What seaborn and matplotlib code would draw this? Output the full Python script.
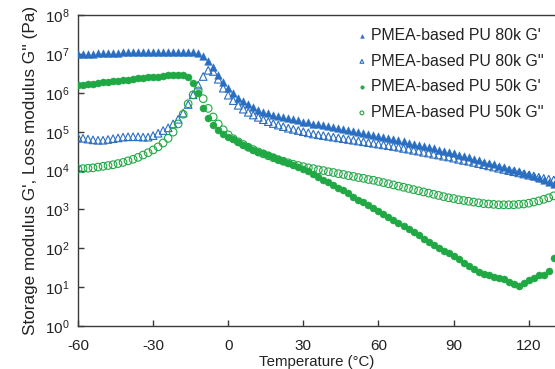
import numpy as np
import pandas as pd
import matplotlib
matplotlib.use("Agg")
import matplotlib.pyplot as plt
import seaborn as sns
from matplotlib.ticker import LogLocator, NullLocator, FixedLocator

# Temperature (°C)
temperature = [-60, -58, -56, -54, -52, -50, -48, -46, -44, -42, -40, -38, -36, -34, -32, -30,
               -28, -26, -24, -22, -20, -18, -16, -14, -12, -10, -8, -6, -4, -2, 0, 2, 4, 6, 8,
               10, 12, 14, 16, 18, 20, 22, 24, 26, 28, 30, 32, 34, 36, 38, 40, 42, 44, 46, 48,
               50, 52, 54, 56, 58, 60, 62, 64, 66, 68, 70, 72, 74, 76, 78, 80, 82, 84, 86, 88,
               90, 92, 94, 96, 98, 100, 102, 104, 106, 108, 110, 112, 114, 116, 118, 120, 122,
               124, 126, 128, 130]

# log10 of modulus (Pa)
log_g1_80k = [7.00, 7.00, 7.01, 7.01, 7.02, 7.02, 7.03, 7.03, 7.03, 7.04, 7.04, 7.04, 7.05, 7.05,
              7.05, 7.05, 7.06, 7.06, 7.06, 7.06, 7.06, 7.06, 7.05, 7.04, 7.02, 6.96, 6.82, 6.66,
              6.46, 6.28, 6.12, 6.00, 5.88, 5.79, 5.71, 5.64, 5.57, 5.52, 5.48, 5.44, 5.41, 5.38,
              5.35, 5.32, 5.29, 5.26, 5.24, 5.21, 5.19, 5.16, 5.14, 5.12, 5.09, 5.07, 5.04, 5.02,
              5.00, 4.97, 4.95, 4.92, 4.90, 4.87, 4.84, 4.81, 4.78, 4.75, 4.72, 4.69, 4.66, 4.63,
              4.60, 4.57, 4.54, 4.51, 4.48, 4.45, 4.41, 4.38, 4.34, 4.30, 4.27, 4.23, 4.20, 4.16,
              4.12, 4.09, 4.05, 4.01, 3.98, 3.94, 3.90, 3.85, 3.80, 3.75, 3.70, 3.65]

log_g2_80k = [4.85, 4.83, 4.81, 4.79, 4.78, 4.78, 4.80, 4.82, 4.84, 4.86, 4.87, 4.87, 4.87, 4.86,
              4.86, 4.90, 4.96, 5.03, 5.10, 5.20, 5.32, 5.48, 5.70, 5.95, 6.20, 6.42, 6.58, 6.55,
              6.35, 6.12, 5.94, 5.80, 5.68, 5.58, 5.50, 5.43, 5.37, 5.31, 5.26, 5.21, 5.17, 5.13,
              5.09, 5.06, 5.03, 5.00, 4.97, 4.94, 4.92, 4.90, 4.88, 4.86, 4.84, 4.82, 4.80, 4.78,
              4.76, 4.74, 4.72, 4.70, 4.68, 4.66, 4.64, 4.62, 4.60, 4.57, 4.55, 4.52, 4.50, 4.47,
              4.45, 4.42, 4.40, 4.37, 4.35, 4.32, 4.29, 4.26, 4.24, 4.21, 4.18, 4.15, 4.12, 4.09,
              4.06, 4.03, 4.00, 3.97, 3.94, 3.91, 3.88, 3.86, 3.83, 3.80, 3.78, 3.76]

log_g1_50k = [6.19, 6.21, 6.22, 6.24, 6.25, 6.27, 6.28, 6.30, 6.31, 6.33, 6.34, 6.36, 6.37, 6.38,
              6.40, 6.41, 6.42, 6.44, 6.45, 6.46, 6.47, 6.47, 6.42, 6.25, 6.00, 5.62, 5.35, 5.18,
              5.05, 4.95, 4.87, 4.80, 4.73, 4.66, 4.60, 4.54, 4.49, 4.44, 4.39, 4.34, 4.30, 4.25,
              4.20, 4.15, 4.10, 4.04, 3.98, 3.91, 3.84, 3.77, 3.70, 3.63, 3.56, 3.49, 3.42, 3.32,
              3.25, 3.18, 3.11, 3.04, 2.97, 2.89, 2.81, 2.73, 2.65, 2.57, 2.49, 2.41, 2.33, 2.25,
              2.17, 2.09, 2.01, 1.94, 1.87, 1.80, 1.72, 1.63, 1.55, 1.47, 1.40, 1.34, 1.30, 1.27,
              1.24, 1.21, 1.14, 1.08, 1.04, 1.10, 1.18, 1.24, 1.32, 1.30, 1.42, 1.75]

log_g2_50k = [4.04, 4.05, 4.06, 4.07, 4.09, 4.11, 4.13, 4.15, 4.18, 4.21, 4.25, 4.29, 4.34, 4.40,
              4.46, 4.53, 4.61, 4.71, 4.83, 4.99, 5.20, 5.45, 5.72, 5.95, 6.05, 5.85, 5.60, 5.38,
              5.20, 5.05, 4.92, 4.82, 4.74, 4.67, 4.60, 4.54, 4.48, 4.43, 4.38, 4.33, 4.28, 4.24,
              4.20, 4.16, 4.13, 4.10, 4.07, 4.05, 4.02, 4.00, 3.97, 3.95, 3.92, 3.90, 3.87, 3.85,
              3.82, 3.80, 3.77, 3.75, 3.72, 3.69, 3.66, 3.63, 3.60, 3.57, 3.54, 3.51, 3.48, 3.45,
              3.42, 3.39, 3.36, 3.33, 3.30, 3.28, 3.25, 3.23, 3.21, 3.19, 3.17, 3.15, 3.14, 3.13,
              3.12, 3.12, 3.12, 3.12, 3.13, 3.14, 3.16, 3.19, 3.22, 3.26, 3.30, 3.35]

labels = ["PMEA-based PU 80k G'", "PMEA-based PU 80k G''",
          "PMEA-based PU 50k G'", "PMEA-based PU 50k G''"]
x_ticks = [-60, -30, 0, 30, 60, 90, 120]

BLUE = "#2a6ec2"
GREEN = "#20a844"

sns.set_style("ticks")
plt.rcParams["font.family"] = ["Liberation Sans", "DejaVu Sans"]
plt.rcParams["mathtext.fontset"] = "custom"
plt.rcParams["mathtext.rm"] = "Liberation Sans"
plt.rcParams["mathtext.it"] = "Liberation Sans"
plt.rcParams["mathtext.bf"] = "Liberation Sans"

fig = plt.figure(figsize=(5.55, 3.69), dpi=100)
ax = fig.add_axes([0.1405, 0.1165, 0.8595, 0.8425])

series = [
    (log_g1_80k, "^", BLUE, True, 30),
    (log_g2_80k, "^", BLUE, False, 30),
    (log_g1_50k, "o", GREEN, True, 26),
    (log_g2_50k, "o", GREEN, False, 30),
]
T = np.array(temperature, dtype=float)
for (vals, mk, col, filled, s), lab in zip(series, labels):
    df = pd.DataFrame({"T": T, "G": 10 ** np.array(vals)})
    if filled:
        sns.scatterplot(data=df, x="T", y="G", marker=mk, s=s, color=col,
                        edgecolor=col, linewidth=0.3, label=lab, ax=ax, zorder=3)
    else:
        sns.scatterplot(data=df, x="T", y="G", marker=mk, s=s, facecolors="none",
                        edgecolor=col, linewidth=0.8, label=lab, ax=ax, zorder=3)

ax.set_yscale("log")
ax.set_ylim(1, 1e8)
ax.set_xlim(-60, 130.5)
ax.yaxis.set_major_locator(LogLocator(base=10, numticks=20))
ax.yaxis.set_minor_locator(NullLocator())
ax.xaxis.set_major_locator(FixedLocator(x_ticks))
ax.set_xticklabels([str(v) for v in x_ticks])

for side in ["left", "bottom", "top"]:
    ax.spines[side].set_color("#3a3a3a")
    ax.spines[side].set_linewidth(1.0)
ax.spines["right"].set_visible(False)
ax.tick_params(axis="both", direction="in", length=4, width=1, color="#3a3a3a",
               labelsize=11, labelcolor="#222222")
ax.tick_params(axis="x", pad=9)
ax.tick_params(axis="y", pad=6)

ax.set_xlabel("Temperature (°C)", fontsize=10.8, color="#222222", labelpad=1.5)
ax.set_ylabel("Storage modulus G', Loss modulus G'' (Pa)", fontsize=12.3, color="#222222",
              labelpad=5)

leg = ax.legend(loc="upper left", bbox_to_anchor=(0.562, 0.995), frameon=False,
                fontsize=11.4, markerscale=0.5, handlelength=0.6, handletextpad=0.25,
                labelspacing=0.68, borderpad=0.2)
for t in leg.get_texts():
    t.set_color("#222222")

fig.savefig("out.png", dpi=100)
